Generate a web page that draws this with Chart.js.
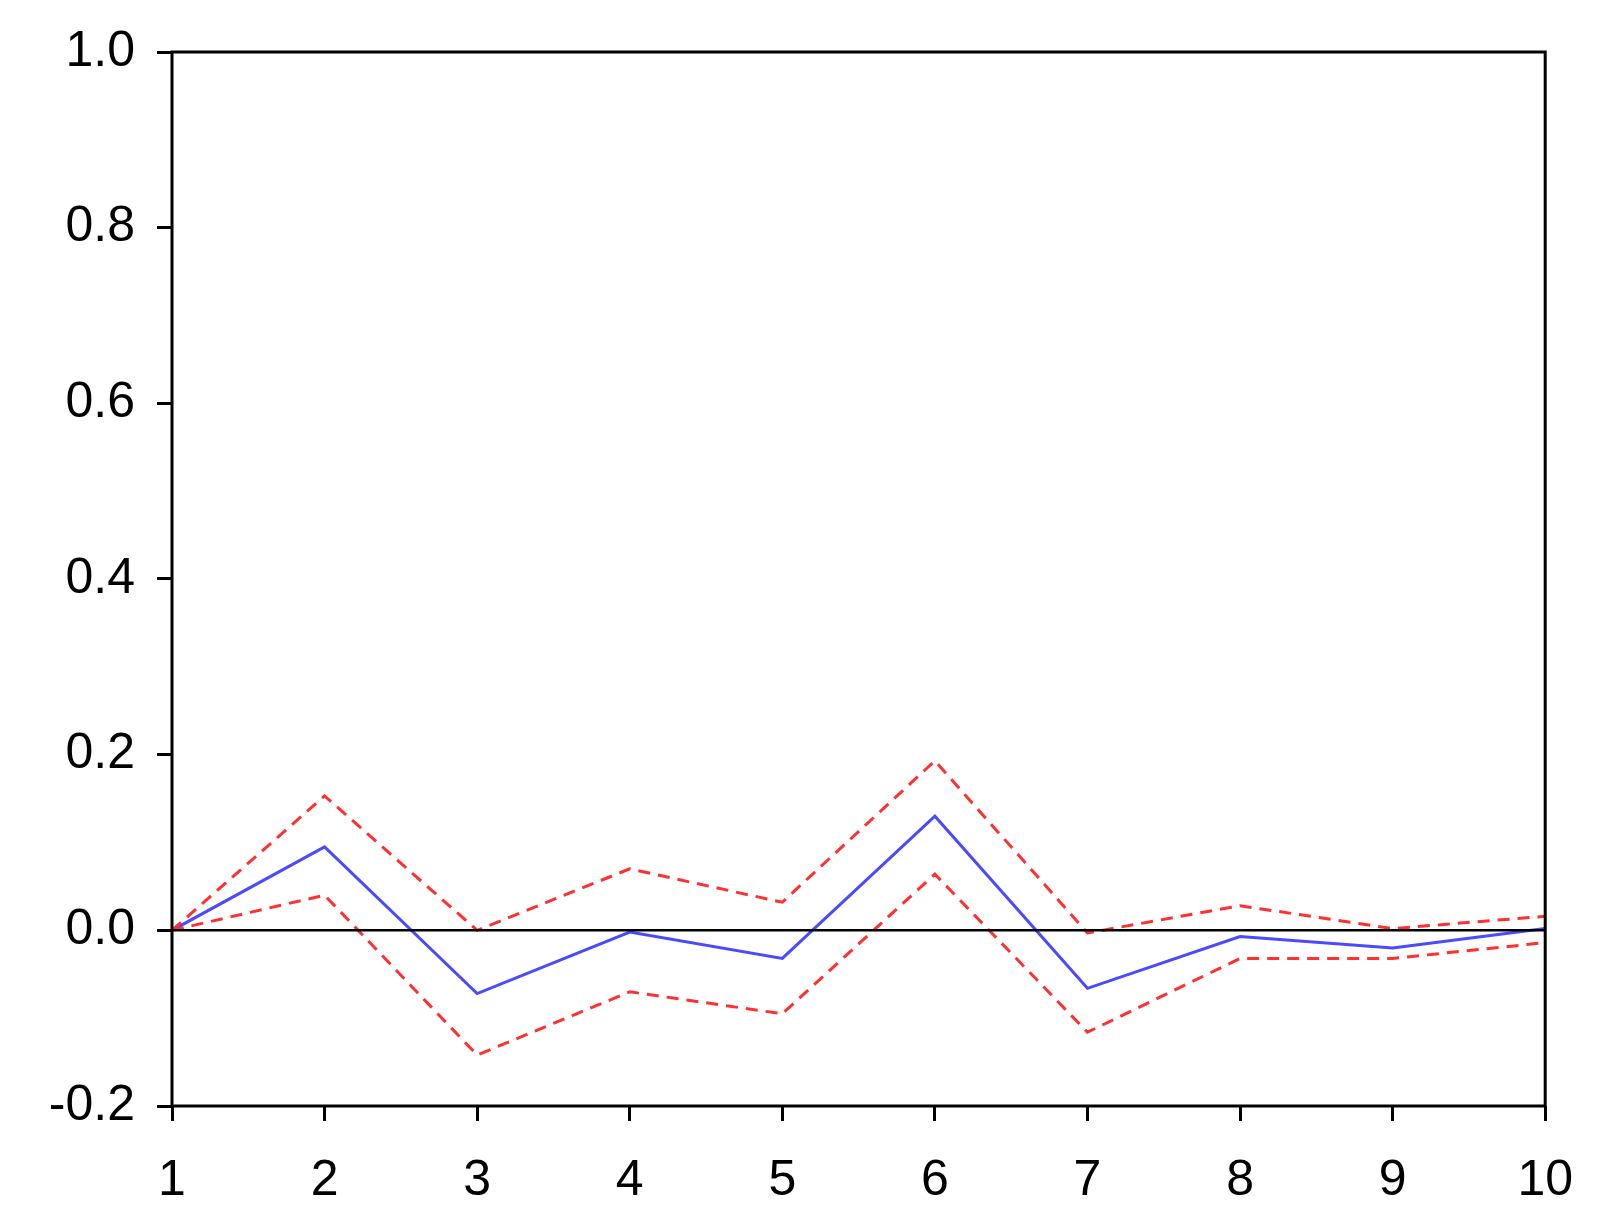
<!DOCTYPE html>
<html><head><meta charset="utf-8">
<script src="https://cdn.jsdelivr.net/npm/chart.js@4/dist/chart.umd.min.js"></script>
<style>html,body{margin:0;padding:0;background:#fff}#wrap{width:1603px;height:1229px}</style>
</head><body><div id="wrap"><canvas id="c" width="1603" height="1229"></canvas></div>
<script>
const periods = [1,2,3,4,5,6,7,8,9,10];
const response = [0, 0.095, -0.072, -0.002, -0.032, 0.13, -0.066, -0.007, -0.02, 0.002];
const upperBand = [0, 0.153, 0.0, 0.07, 0.032, 0.193, -0.003, 0.028, 0.002, 0.016];
const lowerBand = [0, 0.04, -0.142, -0.07, -0.095, 0.064, -0.116, -0.032, -0.032, -0.014];
const yTicks = [-0.2, 0.0, 0.2, 0.4, 0.6, 0.8, 1.0];
const pts = a => a.map((v,i)=>({x:periods[i], y:v}));
const frame = {id:'frame', afterDatasetsDraw(ch){
  const {ctx, chartArea:a, scales:{y}} = ch;
  ctx.save(); ctx.strokeStyle='#000'; ctx.lineWidth=3;
  ctx.strokeRect(a.left, a.top, a.right-a.left, a.bottom-a.top);
  ctx.lineWidth=2.5; ctx.beginPath(); const y0=y.getPixelForValue(0);
  ctx.moveTo(a.left,y0); ctx.lineTo(a.right,y0); ctx.stroke(); ctx.restore();
}};
const font = {family:'"Liberation Sans", Arial, sans-serif', size:50};
new Chart(document.getElementById('c'), {
  type:'line',
  data:{datasets:[
    {data:pts(upperBand), borderColor:'#ff3030', borderWidth:3, borderDash:[12,8], pointRadius:0, tension:0},
    {data:pts(lowerBand), borderColor:'#ff3030', borderWidth:3, borderDash:[12,8], pointRadius:0, tension:0},
    {data:pts(response), borderColor:'#4a4aff', borderWidth:3, pointRadius:0, tension:0}
  ]},
  options:{responsive:false, animation:false, devicePixelRatio:1,
    layout:{padding:{top:37,right:42,bottom:5,left:0}},
    plugins:{legend:{display:false}, tooltip:{enabled:false}},
    scales:{
      x:{type:'linear', min:1, max:10, afterFit(s){s.height=118;},
        afterBuildTicks(s){s.ticks=periods.map(v=>({value:v}));},
        grid:{drawOnChartArea:false, tickLength:15, color:'#000', lineWidth:3},
        border:{display:false},
        ticks:{color:'#000', font, padding:30, maxRotation:0, autoSkip:false}},
      y:{min:-0.2, max:1.0, afterFit(s){s.width=172;},
        afterBuildTicks(s){s.ticks=yTicks.map(v=>({value:v}));},
        grid:{drawOnChartArea:false, tickLength:15, color:'#000', lineWidth:3},
        border:{display:false},
        ticks:{color:'#000', font, padding:22, callback:v=>v.toFixed(1)}}
    }},
  plugins:[frame]
});
</script></body></html>
